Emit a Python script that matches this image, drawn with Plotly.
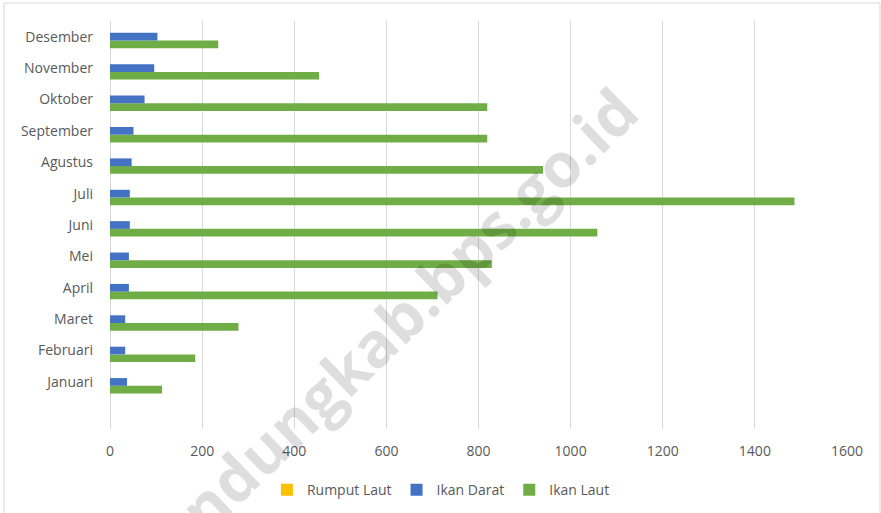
import plotly.graph_objects as go

months = ["Januari", "Februari", "Maret", "April", "Mei", "Juni",
          "Juli", "Agustus", "September", "Oktober", "November", "Desember"]
rumput_laut = [0, 0, 0, 0, 0, 0, 0, 0, 0, 0, 0, 0]
ikan_darat = [37, 33, 33, 41, 41, 43, 43, 47, 51, 75, 96, 103]
ikan_laut = [113, 185, 279, 711, 829, 1058, 1486, 940, 819, 819, 454, 235]
x_ticks = [0, 200, 400, 600, 800, 1000, 1200, 1400, 1600]

FONT = "Open Sans"
TXT = "#595959"
GRID = "#D9D9D9"

fig = go.Figure()
fig.add_trace(go.Bar(y=months, x=ikan_laut, orientation="h", name="Ikan Laut",
                     marker=dict(color="#70AD47", line=dict(width=0)), legendrank=3))
fig.add_trace(go.Bar(y=months, x=ikan_darat, orientation="h", name="Ikan Darat",
                     marker=dict(color="#4472C4", line=dict(width=0)), legendrank=2))
fig.add_trace(go.Bar(y=months, x=rumput_laut, orientation="h", name="Rumput Laut",
                     marker=dict(color="#FFC000", line=dict(width=0)), legendrank=1))

fig.update_layout(
    width=881, height=513,
    margin=dict(l=110, r=34, t=21, b=84, autoexpand=False),
    paper_bgcolor="white", plot_bgcolor="white",
    barmode="group", bargap=0.265, bargroupgap=0,
    font=dict(family=FONT, size=14, color=TXT),
    showlegend=True,
    legend=dict(orientation="h", x=0.449, xanchor="center", y=-0.15, yanchor="middle",
                font=dict(family=FONT, size=14, color=TXT), traceorder="normal",
                bgcolor="rgba(0,0,0,0)"),
    xaxis=dict(range=[0, 1600], tickvals=x_ticks, ticktext=[str(v) for v in x_ticks],
               showgrid=True, gridcolor=GRID, gridwidth=1,
               zeroline=True, zerolinecolor=GRID, zerolinewidth=1,
               showline=False, ticks="", ticklabelstandoff=12, automargin=False,
               tickfont=dict(family=FONT, size=14, color=TXT), fixedrange=True),
    yaxis=dict(type="category", categoryorder="array", categoryarray=months,
               range=[-1.5, 11.5], showgrid=False, zeroline=False, showline=False,
               ticks="", ticklabelstandoff=16, automargin=False,
               tickfont=dict(family=FONT, size=14, color=TXT), fixedrange=True),
    shapes=[dict(type="rect", xref="paper", yref="paper",
                 x0=(4 - 110) / 737, x1=(880 - 110) / 737,
                 y0=-0.25, y1=(429 - 3) / 408,
                 line=dict(color=GRID, width=1), fillcolor="rgba(0,0,0,0)", layer="below")],
    annotations=[dict(text="<b>bandungkab.bps.go.id</b>", xref="paper", yref="paper",
                      x=(380 - 110) / 737, y=(429 - 336) / 408,
                      xanchor="center", yanchor="middle", textangle=-44, showarrow=False,
                      font=dict(family=FONT, size=62, color="rgba(0,0,0,0.13)"))],
)

fig.write_html("out.html", config={"displayModeBar": False},
               post_script="document.body.style.margin='0';document.body.style.overflow='hidden';")
